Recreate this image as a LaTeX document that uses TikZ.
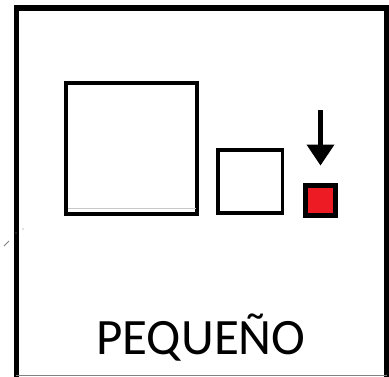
\documentclass[tikz,border=0pt]{standalone}
\usepackage{fontspec}
\setmainfont{Carlito}
\usetikzlibrary{arrows.meta}
\definecolor{redfill}{RGB}{237,28,36}
\definecolor{ghost}{RGB}{200,200,200}
\tikzset{
  sq/.style={draw=black, fill=white, inner sep=0pt, outer sep=0pt},
  frameline/.style={line width=5.5pt, line join=miter},
  ghostline/.style={draw=ghost, line width=1.2pt}
}
\begin{document}
\begin{tikzpicture}[x=1pt,y=-1pt]
\useasboundingbox (0,0) rectangle (389,376);
\fill[white] (0,0) rectangle (389,376);
% outer frame (open at the bottom)
\draw[frameline] (16.3,377) -- (16.3,7.8) -- (386.6,7.8) -- (386.6,377);
\draw[draw=gray, line width=1pt] (16.3,375.5) -- (386.6,375.5);
% squares
\node[sq, line width=3.8pt, minimum width=131.3pt, minimum height=131.6pt] (big) at (131.65,148.5) {};
\draw[ghostline] (67.8,208.3) -- (195.5,208.3);
\node[sq, line width=3.6pt, minimum width=64.6pt, minimum height=63pt] (mid) at (250,181.5) {};
\node[sq, fill=redfill, line width=4.3pt, minimum width=30.2pt, minimum height=30pt] (red) at (320.5,200.5) {};
% arrow
\coordinate (atop) at (320.5,110);
\draw[line width=4.2pt, -{Triangle[width=27pt,length=21pt]}, shorten >=20pt] (atop) -- (red.north);
% small mark at left
\draw[gray, line width=0.8pt] (4,246) -- (9,241);
\fill[gray] (16,233) circle (0.6pt) (23,229) circle (0.6pt);
% label
\node[anchor=base, inner sep=0pt, font=\fontsize{51}{61}\selectfont] (lbl) at (201,354) {PEQUEÑO};
\end{tikzpicture}
\end{document}
